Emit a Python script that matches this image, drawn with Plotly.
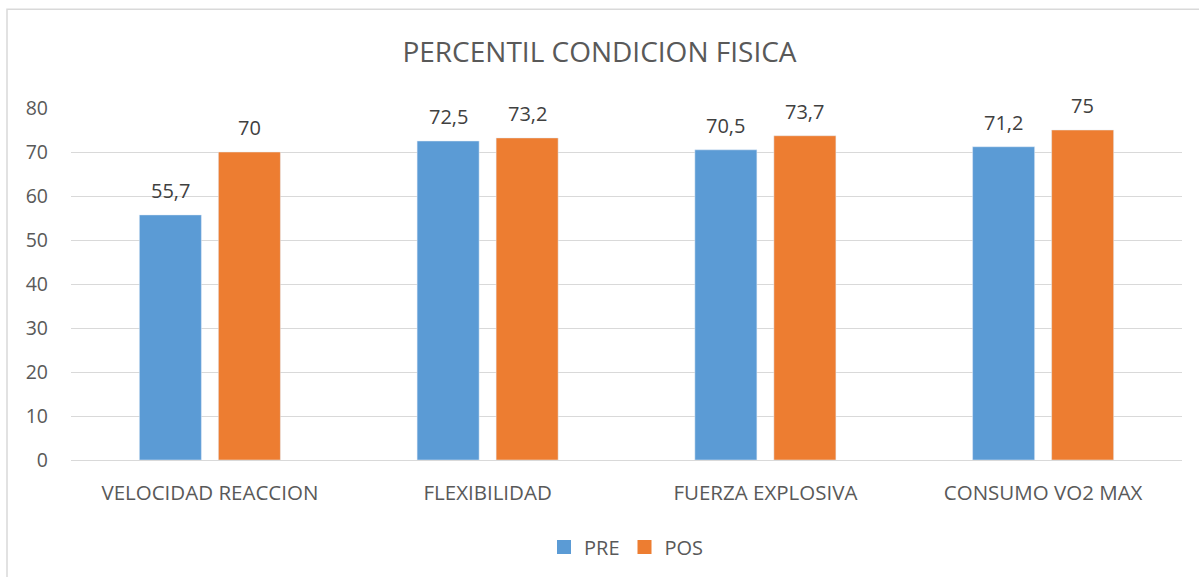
import plotly.graph_objects as go

categories = ["VELOCIDAD REACCION", "FLEXIBILIDAD", "FUERZA EXPLOSIVA", "CONSUMO VO2 MAX"]
pre_values = [55.7, 72.5, 70.5, 71.2]
pos_values = [70, 73.2, 73.7, 75]
y_ticks = [0, 10, 20, 30, 40, 50, 60, 70, 80]
series = [("PRE", pre_values, "#5B9BD5"), ("POS", pos_values, "#ED7D31")]

FONT = "Open Sans"
TXT = "#595959"
LBL = "#404040"

fig = go.Figure()
for name, vals, col in series:
    fig.add_trace(go.Bar(name=name, x=categories, y=vals, marker_color=col,
                         showlegend=False, hoverinfo="x+y"))
    fig.add_trace(go.Scatter(name=name, x=[None], y=[None], mode="markers",
                             marker=dict(symbol="square", size=14, color=col),
                             showlegend=True))

annotations = []
for k, (name, vals, col) in enumerate(series):
    shift = -39.5 if k == 0 else 39.5
    for cat, v in zip(categories, vals):
        annotations.append(dict(x=cat, y=v, xref="x", yref="y", xshift=shift, yshift=9,
                                text=f"{v:g}".replace(".", ","), showarrow=False,
                                yanchor="bottom", xanchor="center",
                                font=dict(size=20, color=LBL, family=FONT)))

L, R, T, B = 71, 17, 108, 116
W, H = 1199, 577
pw, ph = W - L - R, H - T - B

fig.update_layout(
    width=W, height=H,
    separators=",.",
    barmode="group", bargap=0.431, bargroupgap=0.215,
    paper_bgcolor="white", plot_bgcolor="white",
    font=dict(family=FONT, color=TXT, size=19),
    title=dict(text="PERCENTIL CONDICION FISICA", x=0.5, xanchor="center",
               y=1 - 52 / H, yanchor="middle",
               font=dict(size=28, color=TXT, family=FONT)),
    margin=dict(l=L, r=R, t=T, b=B),
    xaxis=dict(showgrid=False, showline=True, linecolor="#d9d9d9", ticks="",
               tickfont=dict(size=20.5, color=TXT), ticklabelstandoff=14),
    yaxis=dict(range=[0, 80], tickvals=y_ticks, showgrid=True, gridcolor="#d9d9d9",
               gridwidth=1, zeroline=False, showline=False, ticks="",
               tickfont=dict(size=19.5, color=TXT), ticklabelstandoff=22),
    legend=dict(orientation="h", x=0.5, xanchor="center", y=-(547 - 461) / ph,
                yanchor="middle", font=dict(size=20, color=TXT), traceorder="normal",
                itemwidth=30),
    annotations=annotations,
    shapes=[dict(type="rect", xref="paper", yref="paper",
                 x0=(7 - L) / pw, x1=(1205 - L) / pw,
                 y0=-(590 - (H - B)) / ph, y1=1 + (T - 9) / ph,
                 line=dict(color="#d9d9d9", width=1.5), fillcolor="rgba(0,0,0,0)", layer="below")],
)

fig.write_html("out.html", config={"displayModeBar": False},
               post_script="document.body.style.margin='0';")
